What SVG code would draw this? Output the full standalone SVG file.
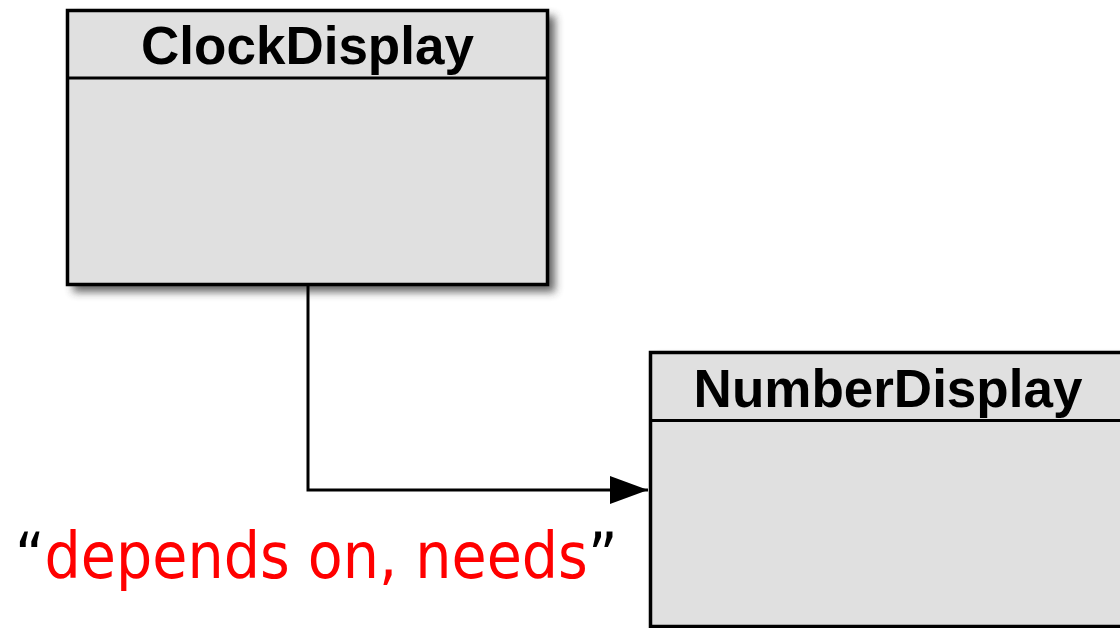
<svg xmlns="http://www.w3.org/2000/svg" width="1120" height="628" viewBox="0 0 1120 628">
<style>
.box{fill:#e0e0e0;stroke:#000;stroke-width:3.5}
.sep{stroke:#000;stroke-width:3}
.title{font-family:"Liberation Sans",Arial,sans-serif;font-weight:bold;font-size:53px;text-anchor:middle;fill:#000}
.conn{fill:none;stroke:#000;stroke-width:3}
.label{font-family:"DejaVu Sans Condensed","DejaVu Sans",sans-serif;font-stretch:condensed;font-size:63.5px}
</style>
<defs>
<filter id="sh" x="-10%" y="-10%" width="130%" height="130%">
<feGaussianBlur stdDeviation="4"/>
</filter>
<marker id="arr" markerUnits="userSpaceOnUse" markerWidth="40" markerHeight="30" refX="38" refY="14" orient="auto">
<path d="M0,0 L38,14 L0,28 Z" fill="#000"/>
</marker>
</defs>
<rect width="1120" height="628" fill="#fff"/>
<g id="ClockDisplay">
<rect x="73" y="16" width="482" height="276" fill="#333" opacity="0.75" filter="url(#sh)"/>
<rect class="box" x="67.5" y="10.5" width="480" height="274"/>
<line class="sep" x1="67.5" y1="78" x2="547.5" y2="78"/>
<text class="title" x="307.5" y="64">ClockDisplay</text>
</g>
<g id="NumberDisplay">
<rect x="656" y="358" width="482" height="276" fill="#333" opacity="0.75" filter="url(#sh)"/>
<rect class="box" x="650.5" y="352.5" width="480" height="274"/>
<line class="sep" x1="650.5" y1="420.5" x2="1130.5" y2="420.5"/>
<text class="title" x="888" y="407">NumberDisplay</text>
</g>
<g id="connectors">
<path class="conn" d="M308,286 V490 H648" marker-end="url(#arr)"/>
</g>
<text class="label" x="15" y="578"><tspan fill="#000">“</tspan><tspan fill="#ff0000">depends on, needs</tspan><tspan fill="#000">”</tspan></text>
</svg>
